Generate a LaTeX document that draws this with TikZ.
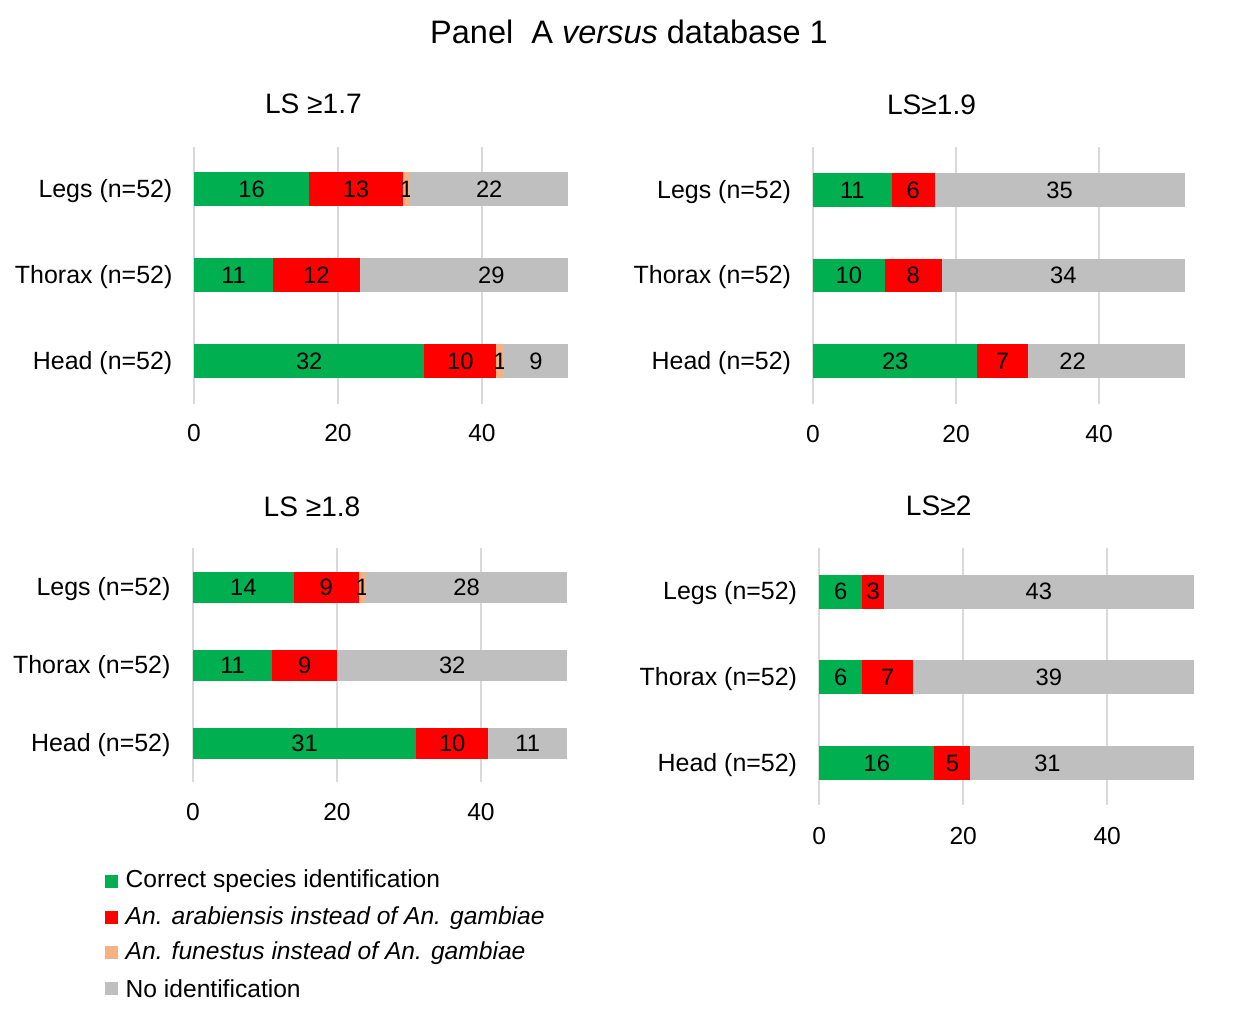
\documentclass[tikz,border=0pt]{standalone}
\usepackage{fontspec}
\setmainfont{Liberation Sans}
\usetikzlibrary{positioning}
\definecolor{good}{HTML}{00B050}
\definecolor{arab}{HTML}{FF0000}
\definecolor{fune}{HTML}{F4B183}
\definecolor{noid}{HTML}{BFBFBF}
\definecolor{gridgray}{HTML}{D9D9D9}
\tikzset{
    gridline/.style={draw=gridgray, line width=1.1pt},
    val/.style={font=\fontsize{13.5}{16}\selectfont, inner sep=0pt},
    cat/.style={font=\fontsize{14.2}{17}\selectfont, inner sep=0pt, anchor=east, yshift=-0.04cm},
    tick/.style={font=\fontsize{14}{17}\selectfont, inner sep=0pt},
    ptitle/.style={font=\fontsize{16}{19}\selectfont, inner sep=0pt},
    legbox/.style={fill=#1, minimum size=0.26cm, inner sep=0pt},
    legtext/.style={font=\fontsize{14}{17}\selectfont, inner sep=0pt},
}

\begin{document}
\begin{tikzpicture}[x=0.02cm, y=-0.02cm]
\fill[white] (0,0) rectangle (1252,1009);
\node[font=\fontsize{18.5}{22}\selectfont, inner sep=0pt] (title) at (629,32) {Panel\ \ A \textit{versus} database 1};
% LS 1.7
\begin{scope}[shift={(194,0)}]
\def\ux{7.2} \def\bh{16.75}
\node[ptitle] (t17) at (119.4,104) {LS ≥1.7};
\foreach \gx in {0,20,40} {
\draw[gridline] ({\gx*\ux},147)--({\gx*\ux},404);
\node[tick] at ({\gx*\ux},433) {\gx};
}
\foreach \y/\xa/\xb/\col/\lab/\lx in {189/0/16/good/16/8, 189/16/29/arab/13/22.5, 189/29/30/fune/1/29.5, 189/30/52/noid/22/41,
275/0/11/good/11/5.5, 275/11/23/arab/12/17, 275/23/52/noid/29/41.3,
361/0/32/good/32/16, 361/32/42/arab/10/37, 361/42/43/fune/1/42.5, 361/43/52/noid/9/47.5} {
\fill[\col] ({\xa*\ux},\y-\bh) rectangle ({\xb*\ux},\y+\bh);
\node[val] at ({\lx*\ux},\y) {\lab};
}
\foreach \y/\lab in {189/Legs (n=52), 275/Thorax (n=52), 361/Head (n=52)}
\node[cat] at (-21.3,\y) {\lab};
\end{scope}
% LS 1.9
\begin{scope}[shift={(813,0)}]
\def\ux{7.15} \def\bh{16.75}
\node[ptitle] (t19) at (118.5,105) {LS≥1.9};
\foreach \gx in {0,20,40} {
\draw[gridline] ({\gx*\ux},147)--({\gx*\ux},404);
\node[tick] at ({\gx*\ux},434) {\gx};
}
\foreach \y/\xa/\xb/\col/\lab/\lx in {190/0/11/good/11/5.5, 190/11/17/arab/6/14, 190/17/52/noid/35/34.5,
275.5/0/10/good/10/5, 275.5/10/18/arab/8/14, 275.5/18/52/noid/34/35,
361/0/23/good/23/11.5, 361/23/30/arab/7/26.5, 361/30/52/noid/22/36.3} {
\fill[\col] ({\xa*\ux},\y-\bh) rectangle ({\xb*\ux},\y+\bh);
\node[val] at ({\lx*\ux},\y) {\lab};
}
\foreach \y/\lab in {190/Legs (n=52), 275.5/Thorax (n=52), 361/Head (n=52)}
\node[cat] at (-21.6,\y) {\lab};
\end{scope}
% LS 1.8
\begin{scope}[shift={(193,0)}]
\def\ux{7.2} \def\bh{15.5}
\node[ptitle] (t18) at (119,507) {LS ≥1.8};
\foreach \gx in {0,20,40} {
\draw[gridline] ({\gx*\ux},548)--({\gx*\ux},782);
\node[tick] at ({\gx*\ux},812) {\gx};
}
\foreach \y/\xa/\xb/\col/\lab/\lx in {587.5/0/14/good/14/7, 587.5/14/23/arab/9/18.5, 587.5/23/24/fune/1/23.5, 587.5/24/52/noid/28/38,
665.5/0/11/good/11/5.5, 665.5/11/20/arab/9/15.5, 665.5/20/52/noid/32/36,
743/0/31/good/31/15.5, 743/31/41/arab/10/36, 743/41/52/noid/11/46.5} {
\fill[\col] ({\xa*\ux},\y-\bh) rectangle ({\xb*\ux},\y+\bh);
\node[val] at ({\lx*\ux},\y) {\lab};
}
\foreach \y/\lab in {587.5/Legs (n=52), 665.5/Thorax (n=52), 743/Head (n=52)}
\node[cat] at (-22.2,\y) {\lab};
\end{scope}
% LS 2
\begin{scope}[shift={(819.2,0)}]
\def\ux{7.2} \def\bh{17}
\node[ptitle] (t20) at (119.5,506) {LS≥2};
\foreach \gx in {0,20,40} {
\draw[gridline] ({\gx*\ux},548)--({\gx*\ux},805);
\node[tick] at ({\gx*\ux},836) {\gx};
}
\foreach \y/\xa/\xb/\col/\lab/\lx in {591.5/0/6/good/6/3, 591.5/6/9/arab/3/7.5, 591.5/9/52/noid/43/30.5,
677/0/6/good/6/3, 677/6/13/arab/7/9.5, 677/13/52/noid/39/31.9,
763/0/16/good/16/8, 763/16/21/arab/5/18.5, 763/21/52/noid/31/31.7} {
\fill[\col] ({\xa*\ux},\y-\bh) rectangle ({\xb*\ux},\y+\bh);
\node[val] at ({\lx*\ux},\y) {\lab};
}
\foreach \y/\lab in {591.5/Legs (n=52), 677/Thorax (n=52), 763/Head (n=52)}
\node[cat] at (-21.8,\y) {\lab};
\end{scope}
% legend
\foreach \y/\col/\lab [count=\i] in {881/good/Correct species identification,
917.7/arab/\textit{An. arabiensis instead of An. gambiae},
952.7/fune/\textit{An. funestus instead of An. gambiae},
988.3/noid/No identification} {
\node[legbox=\col] (key\i) at (111.5,\y) {};
\node[legtext, right=0.14cm of key\i] (keytext\i) {\lab};
}
\end{tikzpicture}
\end{document}
